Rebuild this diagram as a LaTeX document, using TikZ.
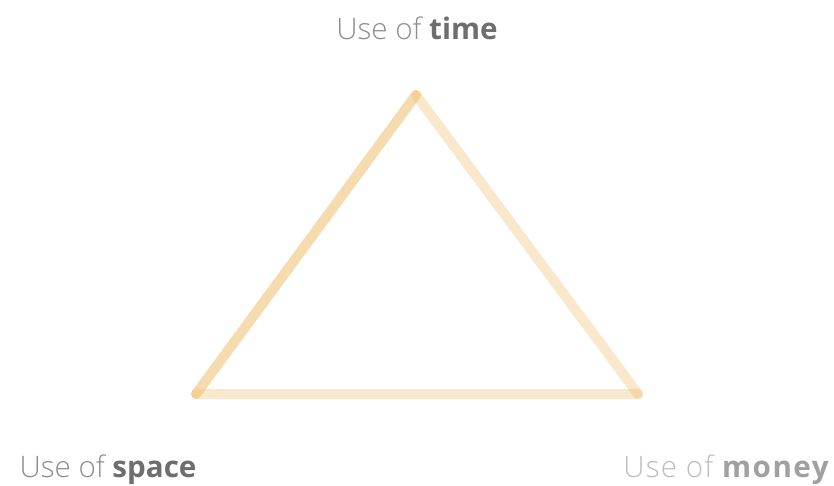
\documentclass[tikz,border=0pt]{standalone}
\usepackage{fontspec}
\setmainfont{Open Sans}
\newfontfamily\lightfont{Open Sans Light}
\newcommand\semifont{\normalfont\bfseries}
\begin{document}
\begin{tikzpicture}[x=1pt,y=-1pt,
  edge/.style={line width=10pt,line cap=round,draw=tri},
  lbl/.style={inner sep=0pt,anchor=base,font=\fontsize{29.6}{34}\selectfont}]
\definecolor{tri}{HTML}{EEB860}
\definecolor{gA}{HTML}{8E8E8E}
\definecolor{gB}{HTML}{6E6E6E}
\definecolor{gC}{HTML}{BDBDBD}
\definecolor{gD}{HTML}{A0A0A0}
\useasboundingbox (0,0) rectangle (834,486);
\coordinate (T) at (416,95);
\coordinate (L) at (196,394);
\coordinate (R) at (638,394);
\draw[edge,draw opacity=0.5] (L) -- (T);
\draw[edge,draw opacity=0.33] (T) -- (R);
\draw[edge,draw opacity=0.33] (L) -- (R);
\node[lbl] (time) at (417,40) {\textcolor{gA}{\lightfont Use of} \textcolor{gB}{\semifont time}};
\node[lbl] (space) at (108,477) {\textcolor{gA}{\lightfont Use of} \textcolor{gB}{\semifont space}};
\node[lbl] (money) at (726,477) {\addfontfeature{LetterSpace=4}\textcolor{gC}{\lightfont\addfontfeature{LetterSpace=4}Use of} \textcolor{gD}{\semifont\addfontfeature{LetterSpace=5}money}};
\end{tikzpicture}
\end{document}
